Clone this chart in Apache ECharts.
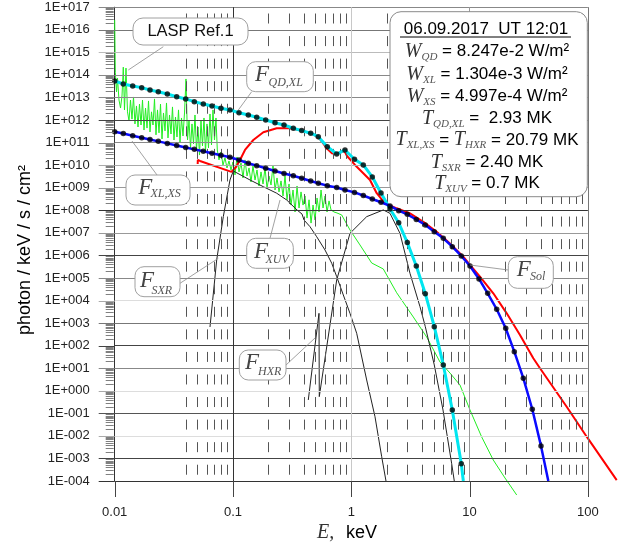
<!DOCTYPE html>
<html><head><meta charset="utf-8">
<script src="https://cdn.jsdelivr.net/npm/echarts@6/dist/echarts.min.js"></script>
<style>html,body{margin:0;padding:0;background:#fff}#c{width:621px;height:547px}</style>
</head><body><div id="c"></div>
<script>
// ---------- data (E in keV, F in photon/keV/s/cm2) ----------
const xMajor = [0.1, 1, 10, 100];            // vertical major grid lines (0.01 is the axis)
const xTickValues = [0.01, 0.1, 1, 10, 100];
const yDecades = [1e-4,1e-3,1e-2,1e-1,1e0,1e1,1e2,1e3,1e4,1e5,1e6,1e7,1e8,1e9,1e10,1e11,1e12,1e13,1e14,1e15,1e16,1e17];
const minorMultipliers = [2,3,4,5,6,7,8,9];
const minorXGrid = [0.04,0.05,0.06,0.07,0.08,0.09, 0.2,0.3,0.4,0.5,0.6,0.7,0.8,0.9, 2,3,4,5,6,7,8,9, 20,30,40,50,60,70,80,90];

const E_grid = [0.01,0.01182,0.01420,0.01691,0.01987,0.02336,0.02784,0.03342,0.03983,0.04709,
  0.05610,0.06645,0.07917,0.09432,0.1124,0.1347,0.1586,0.1890,0.2265,0.2698,
  0.3233,0.3807,0.4536,0.5260,0.6268,0.7526,0.8845,1.064,1.263,1.505,
  1.783,2.124,2.516,2.974,3.544,4.224,5.030,5.996,7.142,8.507,
  10.08,12.01,14.22,16.95,20.20,23.88,28.45,33.88,40.14];

const F_QDXL = [5.4e13,3.96e13,3.2e13,2.72e13,2.15e13,1.8e13,1.43e13,1.08e13,8.6e12,6.5e12,
  5.1e12,4.2e12,3.3e12,2.8e12,2.1e12,1.67e12,1.32e12,1.0e12,7.6e11,6.0e11,
  4.3e11,3.4e11,2.6e11,1.83e11,6.6e10,3.1e10,4.7e10,1.82e10,1.02e10,3.0e9,
  5.8e8,1.14e8,2.8e7,3.7e6,3.4e5,2.0e4,6.9e2,13.9,0.14,5.8e-4];
const QDXL_end = [8.85, 1e-4];

const F_XLXS = [3.04e11,2.5e11,2.02e11,1.65e11,1.37e11,1.13e11,9.2e10,7.4e10,6.1e10,5.0e10,
  4.1e10,3.36e10,2.74e10,2.23e10,1.69e10,1.21e10,9.5e9,7.3e9,5.5e9,4.27e9,
  3.37e9,2.62e9,1.99e9,1.57e9,1.23e9,1.02e9,7.9e8,6.2e8,4.5e8,3.16e8,
  2.26e8,1.55e8,9.6e7,6.6e7,3.9e7,2.23e7,1.12e7,5.7e6,2.43e6,9.4e5,
  3.4e5,9.0e4,2.09e4,4.1e3,5.9e2,54,3.6,0.151,3.6e-3];
const XLXS_end = [46.3, 1e-4];

const F_Sol = [[0.0503,1.12e10],[0.0504,1.7e10],[0.0526,1.53e10],[0.0971,5.0e9],[0.106,8.3e9],
  [0.1146,1.7e10],[0.1263,4.7e10],[0.1485,1.30e11],[0.1804,2.87e11],[0.2341,4.3e11],
  [0.3032,4.3e11],[0.3807,3.4e11],[0.4774,2.33e11],[0.5436,1.40e11],[0.6194,5.6e10],
  [0.6830,3.4e10],[0.7526,3.1e10],[0.8026,3.6e10],[0.876,4.2e10],[0.920,2.55e10],
  [1.075,1.02e10],[1.263,4.4e9],[1.439,2.2e9],[1.640,5.7e8],[1.927,2.04e8],
  [2.420,1.22e8],[3.134,7.3e7],[4.062,3.1e7],[5.272,1.12e7],[6.830,3.4e6],
  [8.845,8.7e5],[10.08,3.75e5],[12.24,1.14e5],[15.86,2.09e4],[20.59,2.7e3],
  [26.67,297],[34.56,27.5],[39.37,9.9],[66.2,0.196],[97.7,9.2e-3],[175.2,1.1e-4]];

const F_SXR = [[0.0639,670],[0.0728,6.3e5],[0.0828,5.2e7],[0.0943,2.2e9],[0.1006,5.5e9]];

const F_XUV = [[0.1006,5.5e9],[0.1392,2.2e9],[0.1804,1.11e9],[0.2341,5.7e8],[0.2844,2.85e8],
  [0.3475,1.03e8],[0.3831,6.8e7],[0.3983,3.7e7],[0.4476,1.87e7],[0.5099,6.7e6],
  [0.5995,1.73e6],[0.6830,4.5e5],[0.7526,1.14e5],[0.8559,1.76e4],[0.9750,2.7e3],
  [1.111,352],[1.349,3.0],[1.586,0.071],[1.807,1.19e-3],[1.965,1e-4]];

const F_HXR = [[0.4330,0.39],[0.5333,2.7e3],[0.5364,0.55],[0.7526,8.1e4],[0.975,9.5e6],
  [1.349,5.2e7],[1.864,1.03e8],[2.124,7.3e7],[2.580,9.5e6],[3.134,1.61e5],
  [3.809,5.3e3],[4.224,6.9e2],[5.03,13.9],[5.961,0.14],[7.059,5.8e-4],[7.425,1e-4]];

const LASP = [[0.0100,2.7e16],[0.01012,1.3e14],[0.01036,1.75e13],[0.01056,7.3e13],[0.01087,7.7e12],
  [0.01120,3.4e12],[0.01153,1.16e13],[0.01182,2.2e14],[0.01210,2.8e12],[0.01246,2.0e14],
  [0.01283,2.3e12],[0.01321,9.1e11],[0.01360,7.7e12],[0.01400,1.1e12],[0.01442,1.05e13],
  [0.01484,6.7e11],[0.01528,4.2e12],[0.01574,4.9e11],[0.01620,5.1e12],[0.01669,6.0e11],
  [0.01718,7.7e12],[0.01769,3.6e11],[0.01822,3.4e12],[0.01876,4.4e11],[0.01931,7.0e12],
  [0.01988,2.95e11],[0.02047,2.3e12],[0.02108,6.0e11],[0.02170,8.6e12],[0.02234,2.2e11],
  [0.02301,2.8e12],[0.02369,2.7e11],[0.02439,5.1e12],[0.02511,1.45e11],[0.02585,2.05e12],
  [0.02662,3.3e11],[0.02741,5.7e12],[0.02822,1.6e11],[0.02906,1.67e12],[0.02992,2.4e11],
  [0.03080,3.8e12],[0.03171,1.3e11],[0.03265,1.36e12],[0.03362,1.77e11],[0.03462,2.8e12],
  [0.03565,1.06e11],[0.03670,1.23e12],[0.03779,1.96e11],[0.03891,2.05e12],[0.04006,6.6e13],
  [0.04125,1.3e11],[0.04247,1.0e12],[0.04373,5.8e10],[0.04502,6.7e11],[0.04636,8.7e10],
  [0.04773,1.67e12],[0.04914,4.7e10],[0.05060,4.9e11],[0.05210,2.8e10],[0.05364,9.1e11],
  [0.05523,7.1e10],[0.05686,1.23e12],[0.05855,3.8e10],[0.06028,6.7e11],[0.06206,5.8e10],
  [0.06390,1.85e12],[0.06580,7.8e10],[0.06774,2.8e12],[0.06975,1.3e11],[0.07181,1.23e12],
  [0.07367,4.7e10],[0.07614,1.7e10],[0.07916,3.8e10],[0.08230,1.0e10],[0.08556,2.1e10],
  [0.08896,7.5e9],[0.09249,1.53e10],[0.09618,6.1e9],
  [0.1000,1.38e10],[0.1040,3.7e9],[0.1081,2.3e10],[0.1124,5.0e9],[0.1169,1.25e10],
  [0.1215,2.7e9],[0.1263,1.7e10],[0.1314,3.3e9],[0.1366,7.5e9],[0.1420,1.8e9],
  [0.1476,9.2e9],[0.1535,2.2e9],[0.1596,6.1e9],[0.1659,1.19e9],[0.1725,5.0e9],
  [0.1794,1.46e9],[0.1865,7.5e9],[0.1939,9.7e8],[0.2016,3.3e9],[0.2096,1.32e9],
  [0.2179,1.0e10],[0.2266,7.9e8],[0.2356,2.7e9],[0.2449,6.5e8],[0.2547,2.0e9],
  [0.2648,4.3e8],[0.2753,3.3e9],[0.2862,2.9e8],[0.2976,1.46e9],[0.3094,1.7e8],
  [0.3217,7.9e8],[0.3345,8.4e7],[0.3478,1.19e9],[0.3616,1.26e8],[0.3759,6.5e8],
  [0.3909,1.7e8],[0.4064,4.3e8],[0.4225,4.5e7],[0.4393,2.9e8],[0.4568,2.7e7],
  [0.4749,1.7e8],[0.4938,3.7e7],[0.5134,3.5e8],[0.5338,8.4e7],[0.5550,7.9e8],
  [0.5770,1.26e8],[0.5999,4.3e8],[0.6237,8.4e7],[0.6485,2.6e8],[0.6742,1.03e8],
  [0.7141,8.4e7],[0.7571,7.6e7],[0.8296,6.2e7],[0.975,1.34e7],[1.184,2.9e6],
  [1.487,4.6e5],[1.864,2.5e5],[2.420,2.2e4],[3.343,1.86e3],[4.339,2.4e2],
  [5.621,18.8],[6.829,6.1],[8.293,1.8],[10.08,0.14],[12.66,8.9e-3],
  [15.86,8.5e-4],[19.92,1.36e-4],[25.01,2.4e-5]];

// ---------- chart ----------
const serif = '"Liberation Serif","DejaVu Serif",serif';
const sans = '"Liberation Sans",Arial,sans-serif';
const ySplitColors = ['#333','#444','#ddd','#555','#ddd','#888','#444','#777','#ddd','#888','#444',
  '#999','#333','#999','#aaa','#888','#444','#888','#888','#bbb','#777','#888'];
const xMajorColors = ['#333','#c8c8c8','#999','#777'];

function yFmt(v){ const e=Math.round(Math.log10(v)); return '1E'+(e<0?'-':'+')+String(Math.abs(e)).padStart(3,'0'); }
function xFmt(v){ const l=Math.log10(v), e=Math.round(l); if (Math.abs(l-e)>0.01) return ''; return e<0 ? Math.pow(10,e).toFixed(-e) : String(Math.round(Math.pow(10,e))); }

const dotsQD = F_QDXL.map((f,i)=>[E_grid[i], f]);
const dotsXL = F_XLXS.map((f,i)=>[E_grid[i], f]);
const lineQD = dotsQD.concat([QDXL_end]);
const lineXL = dotsXL.concat([XLXS_end]);
const yMinorTicks = [];
yDecades.slice(0,-1).forEach(d => minorMultipliers.forEach(m => yMinorTicks.push(d*m)));

function ln(x1,y1,x2,y2){ return {type:'line', z:100, shape:{x1,y1,x2,y2}, style:{stroke:'#8a8a8a', lineWidth:0.8}}; }
function bx(x1,y1,x2,y2,r){ return {type:'rect', z:101, shape:{x:x1,y:y1,width:x2-x1,height:y2-y1,r:r||9}, style:{fill:'#fff', stroke:'#a0a0a0', lineWidth:1}}; }
function tx(x,y,text,font,fill,align){ return {type:'text', z:102, x, y, style:{text, font, fill:fill||'#000', align:align||'left', verticalAlign:'middle', textAlign:align||'left', textVerticalAlign:'middle'}}; }
function FL(xF,yF,sub,xS,yS){ return [tx(xF,yF,'F','italic 23px '+serif,'#444'), tx(xS,yS,sub,'italic 12px '+serif,'#555')]; }

const rich = {
  n:{font:'17px '+sans, fill:'#000', color:'#000', lineHeight:22, verticalAlign:'middle'},
  it:{font:'italic 20px '+serif, fill:'#333', color:'#333', lineHeight:22, verticalAlign:'middle'},
  s:{font:'italic 11px '+serif, fill:'#555', color:'#555', lineHeight:9, verticalAlign:'bottom'}
};
function info(y, text){ return {type:'text', z:102, x:487, y, style:{text, rich, align:'center', verticalAlign:'middle', textAlign:'center', textVerticalAlign:'middle'}}; }

const graphics = [
  ln(163.3,46.7,128.3,70), ln(251.7,91.7,238.3,110), ln(157,175,132,141), ln(180,283.3,218.3,258.3),
  ln(270,238.3,280,200), ln(286,365,315,338), ln(508.3,270,470,265),
  bx(133,18,248,45,10), bx(246.7,61.7,313.3,91.7), bx(126,175,190,205), bx(135,266.7,180,296.7),
  bx(246.7,238.3,293.3,268.3), bx(239.3,350,286,380), bx(508.3,256.7,553.3,288.3),
  {type:'rect', z:101, shape:{x:390,y:11.7,width:197.3,height:185,r:11}, style:{fill:'#fff', stroke:'#8a8a8a', lineWidth:1}},
  tx(190.5,31.5,'LASP Ref.1','16.5px '+sans,'#111','center'),
  ...FL(255,75,'QD,XL',268.5,82.5),
  ...FL(138.3,188.3,'XL,XS',150.5,194),
  ...FL(140,280.5,'SXR',151.5,291),
  ...FL(254,251.7,'XUV',265.5,260),
  ...FL(245,363,'HXR',258,372),
  ...FL(516.7,270,'Sol',530,277),
  tx(486,29.5,'06.09.2017  UT 12:01','17px '+sans,'#000','center'),
  {type:'line', z:102, shape:{x1:400,y1:37,x2:571,y2:37}, style:{stroke:'#000', lineWidth:1}},
  info(51.7,'{it|W}{s|QD}{n| = 8.247e-2 W/m²}'),
  info(74.5,'{it|W}{s|XL}{n| = 1.304e-3 W/m²}'),
  info(96.7,'{it|W}{s|XS}{n| = 4.997e-4 W/m²}'),
  info(118.3,'{it|T}{s|QD,XL}{n| =  2.93 MK}'),
  info(140,'{it|T}{s|XL,XS}{n| = }{it|T}{s|HXR}{n| = 20.79 MK}'),
  info(162.3,'{it|T}{s|SXR}{n| = 2.40 MK}'),
  info(183.5,'{it|T}{s|XUV}{n| = 0.7 MK}'),
  {type:'text', z:102, x:25, y:250, rotation:Math.PI/2, style:{text:'photon / keV / s / cm²', font:'18px '+sans, fill:'#000', align:'center', verticalAlign:'middle', textAlign:'center', textVerticalAlign:'middle'}},
  tx(317,533,'E,','italic 20px '+serif,'#333'),
  tx(346,533,'keV','18px '+sans,'#000')
];

// grid spans 0.01 .. 10^(2 + 32.7/118.3) so that the Sol curve can run past 100 keV as in the original
const xMaxExtended = 190.5;

const option = {
  animation:false,
  backgroundColor:'#fff',
  grid:{left:114.7, right:0, top:7.2, bottom:66, containLabel:false},
  xAxis:{type:'log', logBase:10, min:0.01, max:xMaxExtended, interval:1,
    axisLine:{show:false}, axisTick:{show:false}, minorTick:{show:false},
    axisLabel:{show:false}, splitLine:{show:false}},
  yAxis:{type:'log', logBase:10, min:1e-4, max:1e17, interval:1,
    axisLine:{show:true, lineStyle:{color:'#333', width:1}},
    axisTick:{show:false}, minorTick:{show:false},
    axisLabel:{show:false}, splitLine:{show:false}},
  series:[
    {type:'line', name:'grid', data:[], z:1, silent:true,
      markLine:{silent:true, symbol:['none','none'], label:{show:false}, animation:false,
        lineStyle:{type:'solid', width:1},
        data: yDecades.map((v,i)=>[{coord:[0.01,v], lineStyle:{color:ySplitColors[i], type:'solid', width:1}},{coord:[100,v]}])
          .concat(xMajor.map((v,i)=>({xAxis:v, lineStyle:{color:xMajorColors[i], type:'solid', width:1}})))}},
    {type:'line', name:'minorgrid', data:[], z:1, silent:true,
      markLine:{silent:true, symbol:['none','none'], label:{show:false}, animation:false,
        lineStyle:{color:'#555', width:1, type:[10,12.56], dashOffset:16.28},
        data:minorXGrid.map(v=>({xAxis:v}))}},
    {type:'line', name:'LASP', data:LASP, symbol:'none', clip:false, z:2, lineStyle:{color:'#22ee22', width:1}},
    {type:'line', name:'SXR', data:F_SXR, symbol:'none', z:3, lineStyle:{color:'#222', width:1}},
    {type:'line', name:'XUV', data:F_XUV, symbol:'none', z:3, lineStyle:{color:'#222', width:1}},
    {type:'line', name:'HXR', data:F_HXR, symbol:'none', z:3, lineStyle:{color:'#222', width:1}},
    {type:'line', name:'Sol', data:F_Sol, symbol:'none', clip:false, z:4, lineStyle:{color:'#ff0000', width:2}},
    {type:'line', name:'QDXL', data:lineQD, symbol:'none', z:5, lineStyle:{color:'#00e6f0', width:3}},
    {type:'line', name:'XLXS', data:lineXL, symbol:'none', z:6, lineStyle:{color:'#0a0aff', width:2.5}},
    {type:'scatter', data:dotsQD, symbol:'circle', symbolSize:5.5, z:7, itemStyle:{color:'#000'}},
    {type:'scatter', data:dotsXL, symbol:'circle', symbolSize:5.5, z:7, itemStyle:{color:'#000'}}
  ]
};
const chart = echarts.init(document.getElementById('c'), null, {renderer:'canvas'});
chart.setOption(option);

// axis ticks and tick labels, placed through the axis scales
function px(x, y){ return chart.convertToPixel({seriesIndex:2}, [x, y]); }
const axisGraphics = [];
yMinorTicks.forEach(v => {
  const p = px(0.01, v); const y = Math.round(p[1]) + 0.5;
  axisGraphics.push({type:'line', z:50, silent:true, shape:{x1:p[0]-9, y1:y, x2:p[0]-1, y2:y}, style:{stroke:'#808080', lineWidth:1}});
});
yDecades.forEach((v,i) => {
  const p = px(0.01, v); const y = Math.round(p[1]) + 0.5;
  axisGraphics.push({type:'line', z:50, silent:true, shape:{x1:p[0]-16, y1:y, x2:p[0], y2:y}, style:{stroke:ySplitColors[i]==='#ddd' ? '#aaa' : ySplitColors[i], lineWidth:1}});
  axisGraphics.push({type:'text', z:50, silent:true, x:p[0]-25, y:p[1], style:{text:yFmt(v), font:'13px '+sans, fill:'#222', align:'right', verticalAlign:'middle', textAlign:'right', textVerticalAlign:'middle'}});
});
xTickValues.forEach(v => {
  const p = px(v, 1e-4); const x = Math.round(p[0]) + 0.5;
  axisGraphics.push({type:'line', z:50, silent:true, shape:{x1:x, y1:p[1], x2:x, y2:p[1]+16}, style:{stroke:'#444', lineWidth:1}});
  axisGraphics.push({type:'text', z:50, silent:true, x:p[0], y:p[1]+31, style:{text:xFmt(v), font:'13px '+sans, fill:'#222', align:'center', verticalAlign:'middle', textAlign:'center', textVerticalAlign:'middle'}});
});
chart.setOption({graphic: graphics.concat(axisGraphics)});
</script></body></html>
